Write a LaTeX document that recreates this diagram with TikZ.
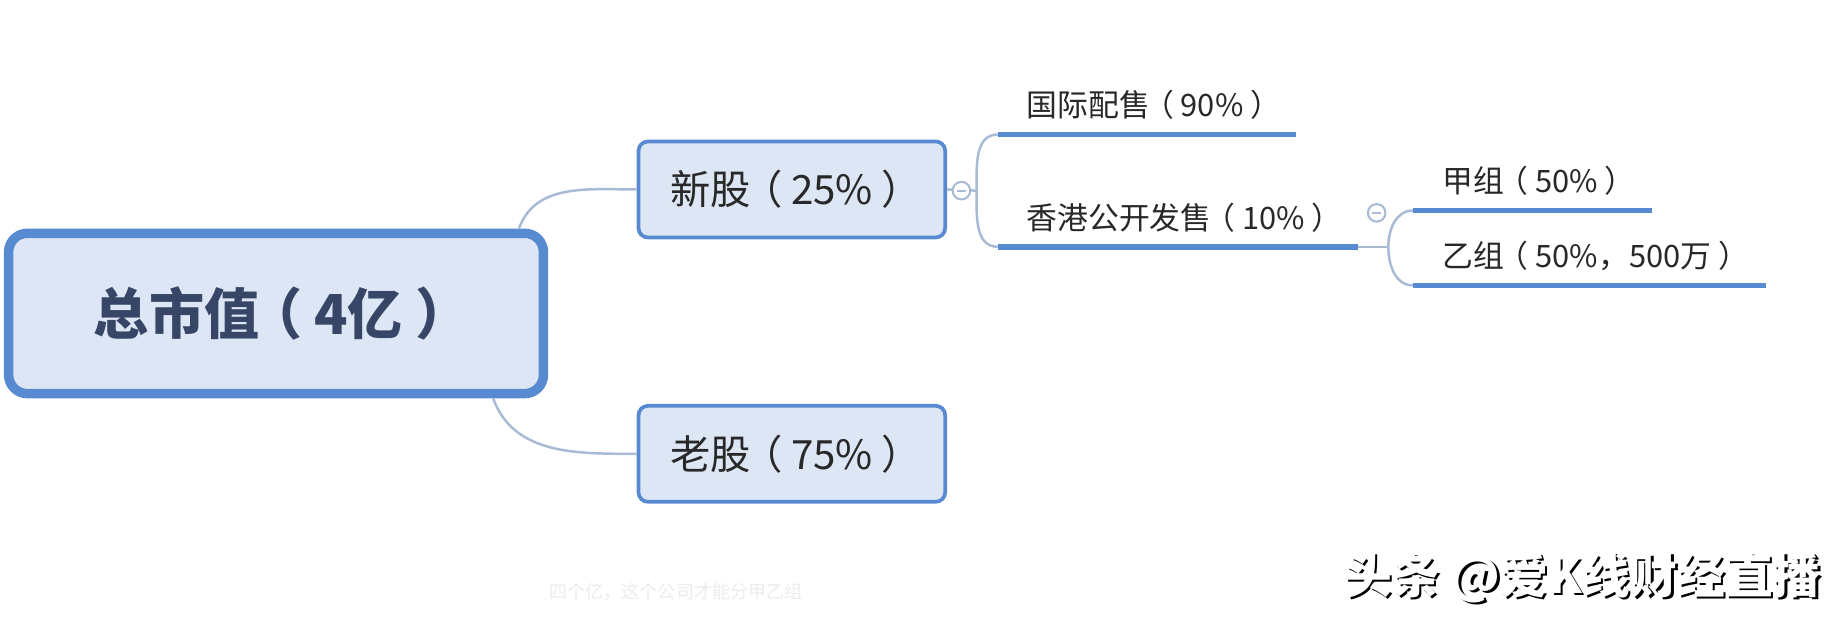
\documentclass[tikz,border=0pt]{standalone}
\usepackage{fontspec}
\setmainfont{Noto Sans CJK SC}
\usepackage{xcolor}
\usepackage{tikz}

\definecolor{boxblue}{RGB}{88,138,210}
\definecolor{boxfill}{RGB}{221,230,244}
\definecolor{linkgray}{RGB}{168,186,212}
\definecolor{roottext}{RGB}{55,70,102}
\definecolor{leaftext}{RGB}{40,40,40}

% centred full-width brackets
\newcommand{\lpar}{\kern-0.22em（\kern0.22em}
\newcommand{\rpar}{\kern0.22em）\kern-0.22em}

\tikzset{
  rootbox/.style={draw=boxblue, line width=2.3pt, fill=boxfill, rounded corners=0.16cm,
    minimum width=4.57cm, minimum height=1.37cm, inner sep=0pt,
    font=\fontsize{13.4pt}{14pt}\selectfont\bfseries, text=roottext},
  subbox/.style={draw=boxblue, line width=0.9pt, fill=boxfill, rounded corners=0.08cm,
    minimum width=2.62cm, minimum height=0.82cm, inner sep=0pt,
    font=\fontsize{9.8pt}{11pt}\selectfont, text=leaftext},
  leaf/.style={anchor=base west, inner sep=0pt,
    font=\fontsize{7.5pt}{9pt}\selectfont, text=leaftext},
  uline/.style={draw=boxblue, line width=1.4pt},
  link/.style={draw=linkgray, line width=0.6pt},
  foldbtn/.style={circle, draw=linkgray, line width=0.5pt, fill=white,
    minimum size=0.15cm, inner sep=0pt,
    path picture={\draw[linkgray, line width=0.5pt] ([xshift=-0.04cm]path picture bounding box.center) -- ([xshift=0.04cm]path picture bounding box.center);}}
}

\begin{document}
\begin{tikzpicture}[x=0.01cm, y=-0.01cm]
    \useasboundingbox (0,0) rectangle (1568,531);
    \fill[white] (0,0) rectangle (1568,531);

    % main boxes
    \node[rootbox] (root) at (236,268) {总市值\lpar 4亿\rpar};
    \node[subbox] (xin) at (677,162) {新股\lpar 25\%\rpar};
    \node[subbox] (lao) at (677,388) {老股\lpar 75\%\rpar};

    % root links
    \draw[link] ([xshift=-0.25cm]root.north east) to[out=70,in=180] (xin.west);
    \draw[link] ([xshift=-0.47cm]root.south east) to[out=-70,in=180] (lao.west);

    % first level leaves
    \node[leaf] (gjps) at (877,100) {国际配售\lpar 90\%\rpar};
    \node[leaf] (hkgk) at (877,196) {香港公开发售\lpar 10\%\rpar};
    \coordinate (gjps-l) at (853,115);
    \coordinate (gjps-r) at (1108,115);
    \coordinate (hkgk-l) at (853,211);
    \coordinate (hkgk-r) at (1161,211);
    \draw[uline] (gjps-l) -- (gjps-r);
    \draw[uline] (hkgk-l) -- (hkgk-r);

    % fork after xin
    \coordinate (fork1) at (835,163);
    \draw[link] (xin.east) -- (fork1);
    \draw[link] (fork1) to[out=90,in=180] (gjps-l);
    \draw[link] (fork1) to[out=-90,in=180] (hkgk-l);
    \node[foldbtn] (fold1) at (822,163) {};

    % second level leaves
    \node[leaf] (jia) at (1233,165) {甲组\lpar 50\%\rpar};
    \node[leaf] (yi) at (1233,229) {乙组\lpar 50\%，500万\rpar};
    \coordinate (jia-l) at (1208,180);
    \coordinate (jia-r) at (1412,180);
    \coordinate (yi-l) at (1208,244);
    \coordinate (yi-r) at (1510,244);
    \draw[uline] (jia-l) -- (jia-r);
    \draw[uline] (yi-l) -- (yi-r);

    % fork after hkgk
    \coordinate (fork2) at (1187,211);
    \draw[link] (hkgk-r) -- (fork2);
    \draw[link] (fork2) to[out=90,in=180] (jia-l);
    \draw[link] (fork2) to[out=-90,in=180] (yi-l);
    \node[foldbtn] (fold2) at (1177,182) {};

    % caption and watermark
    \node[font=\fontsize{4.4pt}{5pt}\selectfont, text={rgb,255:red,236;green,236;blue,236}] (subtitle) at (578,506) {四个亿，这个公司才能分甲乙组};
    \node[font=\fontsize{11.6pt}{13pt}\selectfont\bfseries, text=black] (wm-shadow) at (1355,496) {头条 @爱K线财经直播};
    \node[font=\fontsize{11.6pt}{13pt}\selectfont\bfseries, text=white] (wm) at (1353,494) {头条 @爱K线财经直播};
\end{tikzpicture}
\end{document}
